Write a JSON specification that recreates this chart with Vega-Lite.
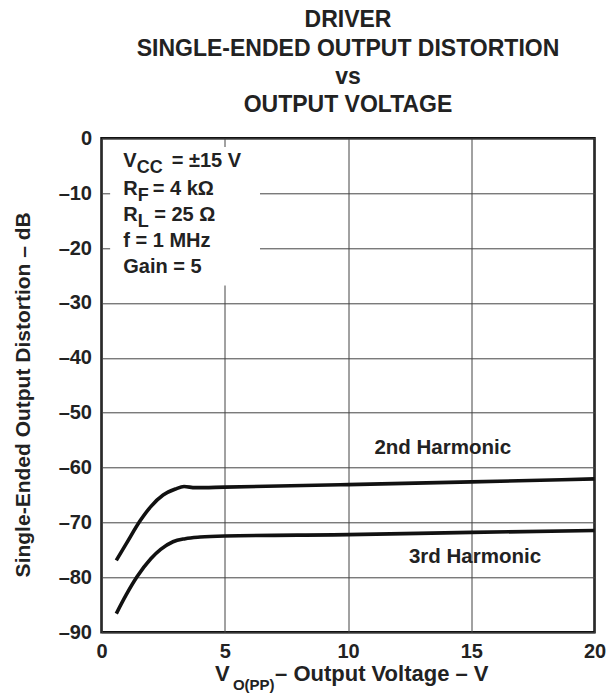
{
  "$schema": "https://vega.github.io/schema/vega-lite/v6.json",
  "width": 493,
  "height": 494,
  "autosize": "none",
  "padding": {"left": 101.5, "top": 138.3, "right": 21.5, "bottom": 61.7},
  "background": "white",
  "title": {
    "text": ["DRIVER", "SINGLE-ENDED OUTPUT DISTORTION", "vs", "OUTPUT VOLTAGE"],
    "font": "Liberation Sans",
    "fontSize": 23,
    "fontWeight": "bold",
    "color": "#222222",
    "lineHeight": 28.3,
    "anchor": "middle",
    "frame": "group",
    "offset": 11
  },
  "config": {
    "view": {"stroke": "#111111", "strokeWidth": 2.5},
    "font": "Liberation Sans",
    "axis": {
      "labelFont": "Liberation Sans",
      "labelFontSize": 20,
      "labelFontWeight": "bold",
      "labelColor": "#222222",
      "titleFont": "Liberation Sans",
      "titleFontWeight": "bold",
      "titleColor": "#222222",
      "ticks": false,
      "domain": false,
      "grid": true,
      "gridColor": "#444444",
      "gridWidth": 1,
      "gridOpacity": 1,
      "labelFlush": false,
      "labelPadding": 10
    }
  },
  "datasets": {
    "box": [{"x": 0.35, "x2": 6.43, "y": -1.6, "y2": -26.8}],
    "curves": [
      {"series": "2nd Harmonic", "x": 0.6, "y": -76.9},
      {"series": "2nd Harmonic", "x": 1.0, "y": -73.9},
      {"series": "2nd Harmonic", "x": 1.58, "y": -69.6},
      {"series": "2nd Harmonic", "x": 2.0, "y": -67.1},
      {"series": "2nd Harmonic", "x": 2.5, "y": -65.0},
      {"series": "2nd Harmonic", "x": 3.0, "y": -63.9},
      {"series": "2nd Harmonic", "x": 3.35, "y": -63.45},
      {"series": "2nd Harmonic", "x": 3.8, "y": -63.65},
      {"series": "2nd Harmonic", "x": 5.0, "y": -63.55},
      {"series": "2nd Harmonic", "x": 10.0, "y": -63.1},
      {"series": "2nd Harmonic", "x": 15.0, "y": -62.6},
      {"series": "2nd Harmonic", "x": 20.0, "y": -62.05},
      {"series": "3rd Harmonic", "x": 0.6, "y": -86.6},
      {"series": "3rd Harmonic", "x": 1.0, "y": -83.2},
      {"series": "3rd Harmonic", "x": 1.44, "y": -79.9},
      {"series": "3rd Harmonic", "x": 2.0, "y": -76.6},
      {"series": "3rd Harmonic", "x": 2.4, "y": -74.9},
      {"series": "3rd Harmonic", "x": 2.9, "y": -73.5},
      {"series": "3rd Harmonic", "x": 3.4, "y": -72.95},
      {"series": "3rd Harmonic", "x": 4.0, "y": -72.65},
      {"series": "3rd Harmonic", "x": 5.0, "y": -72.45},
      {"series": "3rd Harmonic", "x": 10.0, "y": -72.2},
      {"series": "3rd Harmonic", "x": 15.0, "y": -71.8},
      {"series": "3rd Harmonic", "x": 20.0, "y": -71.45}
    ],
    "legendMain": [
      {"x": 0.884, "y": -5.28, "label": "V"},
      {"x": 2.85, "y": -5.28, "label": "= ±15 V"},
      {"x": 0.884, "y": -10.33, "label": "R"},
      {"x": 2.08, "y": -10.33, "label": "= 4 kΩ"},
      {"x": 0.884, "y": -15.0, "label": "R"},
      {"x": 2.14, "y": -15.0, "label": "= 25 Ω"},
      {"x": 0.884, "y": -19.85, "label": "f = 1 MHz"},
      {"x": 0.884, "y": -24.48, "label": "Gain = 5"}
    ],
    "legendSub": [
      {"x": 1.428, "y": -5.28, "label": "CC"},
      {"x": 1.469, "y": -10.33, "label": "F"},
      {"x": 1.469, "y": -15.0, "label": "L"}
    ],
    "curveLabels": [
      {"x": 11.07, "y": -57.5, "label": "2nd Harmonic"},
      {"x": 12.47, "y": -77.4, "label": "3rd Harmonic"}
    ],
    "xTitleMain": [
      {"x": 4.6, "y": -98.9, "label": "V"},
      {"x": 7.04, "y": -98.9, "label": "– Output Voltage – V"}
    ],
    "xTitleSub": [
      {"x": 5.33, "y": -98.9, "label": "O(PP)"}
    ]
  },
  "layer": [
    {
      "data": {"name": "box"},
      "mark": {"type": "rect", "fill": "white", "stroke": null},
      "encoding": {
        "x": {
          "field": "x", "type": "quantitative",
          "scale": {"domain": [0, 20], "nice": false, "zero": false},
          "axis": {"values": [0, 5, 10, 15, 20], "title": null, "labelPadding": 9}
        },
        "x2": {"field": "x2"},
        "y": {
          "field": "y", "type": "quantitative",
          "scale": {"domain": [-90, 0], "nice": false, "zero": false},
          "axis": {
            "values": [-90, -80, -70, -60, -50, -40, -30, -20, -10, 0],
            "labelExpr": "datum.value < 0 ? '–' + abs(datum.value) : '' + datum.value",
            "labelBaseline": "middle",
            "title": "Single-Ended Output Distortion – dB",
            "titleFontSize": 21,
            "titlePadding": 25,
            "titleY": 256
          }
        },
        "y2": {"field": "y2"}
      }
    },
    {
      "data": {"name": "curves"},
      "mark": {"type": "line", "interpolate": "monotone", "strokeWidth": 3.6, "color": "#111111"},
      "encoding": {
        "x": {"field": "x", "type": "quantitative"},
        "y": {"field": "y", "type": "quantitative"},
        "detail": {"field": "series"}
      }
    },
    {
      "data": {"name": "legendMain"},
      "mark": {"type": "text", "align": "left", "baseline": "alphabetic", "fontSize": 20, "fontWeight": "bold", "color": "#222222"},
      "encoding": {
        "x": {"field": "x", "type": "quantitative"},
        "y": {"field": "y", "type": "quantitative"},
        "text": {"field": "label"}
      }
    },
    {
      "data": {"name": "legendSub"},
      "mark": {"type": "text", "align": "left", "baseline": "alphabetic", "fontSize": 18, "fontWeight": "bold", "dy": 6, "color": "#222222"},
      "encoding": {
        "x": {"field": "x", "type": "quantitative"},
        "y": {"field": "y", "type": "quantitative"},
        "text": {"field": "label"}
      }
    },
    {
      "data": {"name": "curveLabels"},
      "mark": {"type": "text", "align": "left", "baseline": "alphabetic", "fontSize": 20.5, "fontWeight": "bold", "color": "#222222"},
      "encoding": {
        "x": {"field": "x", "type": "quantitative"},
        "y": {"field": "y", "type": "quantitative"},
        "text": {"field": "label"}
      }
    },
    {
      "data": {"name": "xTitleMain"},
      "mark": {"type": "text", "align": "left", "baseline": "alphabetic", "fontSize": 22, "fontWeight": "bold", "color": "#222222"},
      "encoding": {
        "x": {"field": "x", "type": "quantitative"},
        "y": {"field": "y", "type": "quantitative"},
        "text": {"field": "label"}
      }
    },
    {
      "data": {"name": "xTitleSub"},
      "mark": {"type": "text", "align": "left", "baseline": "alphabetic", "fontSize": 15, "fontWeight": "bold", "dy": 9, "color": "#222222"},
      "encoding": {
        "x": {"field": "x", "type": "quantitative"},
        "y": {"field": "y", "type": "quantitative"},
        "text": {"field": "label"}
      }
    }
  ]
}
